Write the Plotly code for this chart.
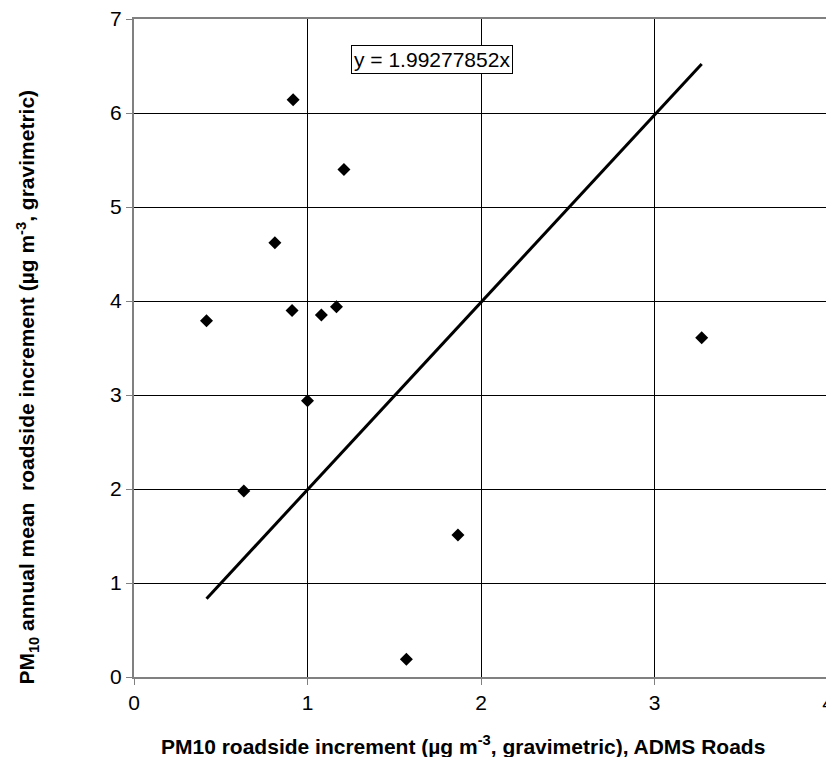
import plotly.graph_objects as go

x_vals = [0.418, 0.917, 1.21, 0.812, 0.911, 1.08, 1.167, 1.0, 0.633, 1.867, 1.57, 3.272]
y_vals = [3.79, 6.14, 5.40, 4.62, 3.90, 3.85, 3.94, 2.94, 1.98, 1.51, 0.19, 3.61]
slope = 1.99277852
trend_x = [min(x_vals), max(x_vals)]
trend_y = [slope * v for v in trend_x]

x_ticks = [0, 1, 2, 3, 4]
y_ticks = [0, 1, 2, 3, 4, 5, 6, 7]

FONT = "Liberation Sans, Arial, sans-serif"

fig = go.Figure()
fig.add_trace(go.Scatter(x=trend_x, y=trend_y, mode="lines",
                         line=dict(color="black", width=3), showlegend=False))
fig.add_trace(go.Scatter(x=x_vals, y=y_vals, mode="markers",
                         marker=dict(symbol="diamond", size=10, color="black"),
                         showlegend=False))

axis_common = dict(showgrid=True, gridcolor="black", gridwidth=1, zeroline=False,
                   showline=True, linecolor="#808080", linewidth=2, mirror=True,
                   ticks="outside", ticklen=6, tickcolor="#808080",
                   tickfont=dict(size=21, family=FONT), automargin=False,
                   ticklabeloverflow="allow")

# page body has an 8px margin; size the figure so it fits the 834x765 window
fig.update_layout(
    width=826, height=749,
    margin=dict(l=126, r=6, t=11, b=79.5),
    plot_bgcolor="white", paper_bgcolor="white",
    font=dict(family=FONT, color="black", size=20),
    xaxis=dict(range=[0, 4], tickvals=x_ticks, **axis_common),
    yaxis=dict(range=[0, 7], tickvals=y_ticks, **axis_common),
)

fig.add_annotation(x=1.72, y=6.57, xref="x", yref="y", showarrow=False,
                   text="y = 1.99277852x", font=dict(size=21, family=FONT),
                   bordercolor="black", borderwidth=1, bgcolor="white", borderpad=2)

fig.add_annotation(x=0.474, y=-0.104, xref="paper", yref="paper", showarrow=False,
                   text="<b>PM10 roadside increment (µg m<sup>-3</sup>, gravimetric), ADMS Roads</b>",
                   font=dict(size=21, family=FONT), xanchor="center", yanchor="middle")
fig.add_annotation(x=-0.154, y=0.44, xref="paper", yref="paper", showarrow=False,
                   text="<b>PM<sub>10</sub> annual mean  roadside increment (µg m<sup>-3</sup>, gravimetric)</b>",
                   font=dict(size=21, family=FONT), textangle=-90,
                   xanchor="center", yanchor="middle")

fig.write_html("out.html")
